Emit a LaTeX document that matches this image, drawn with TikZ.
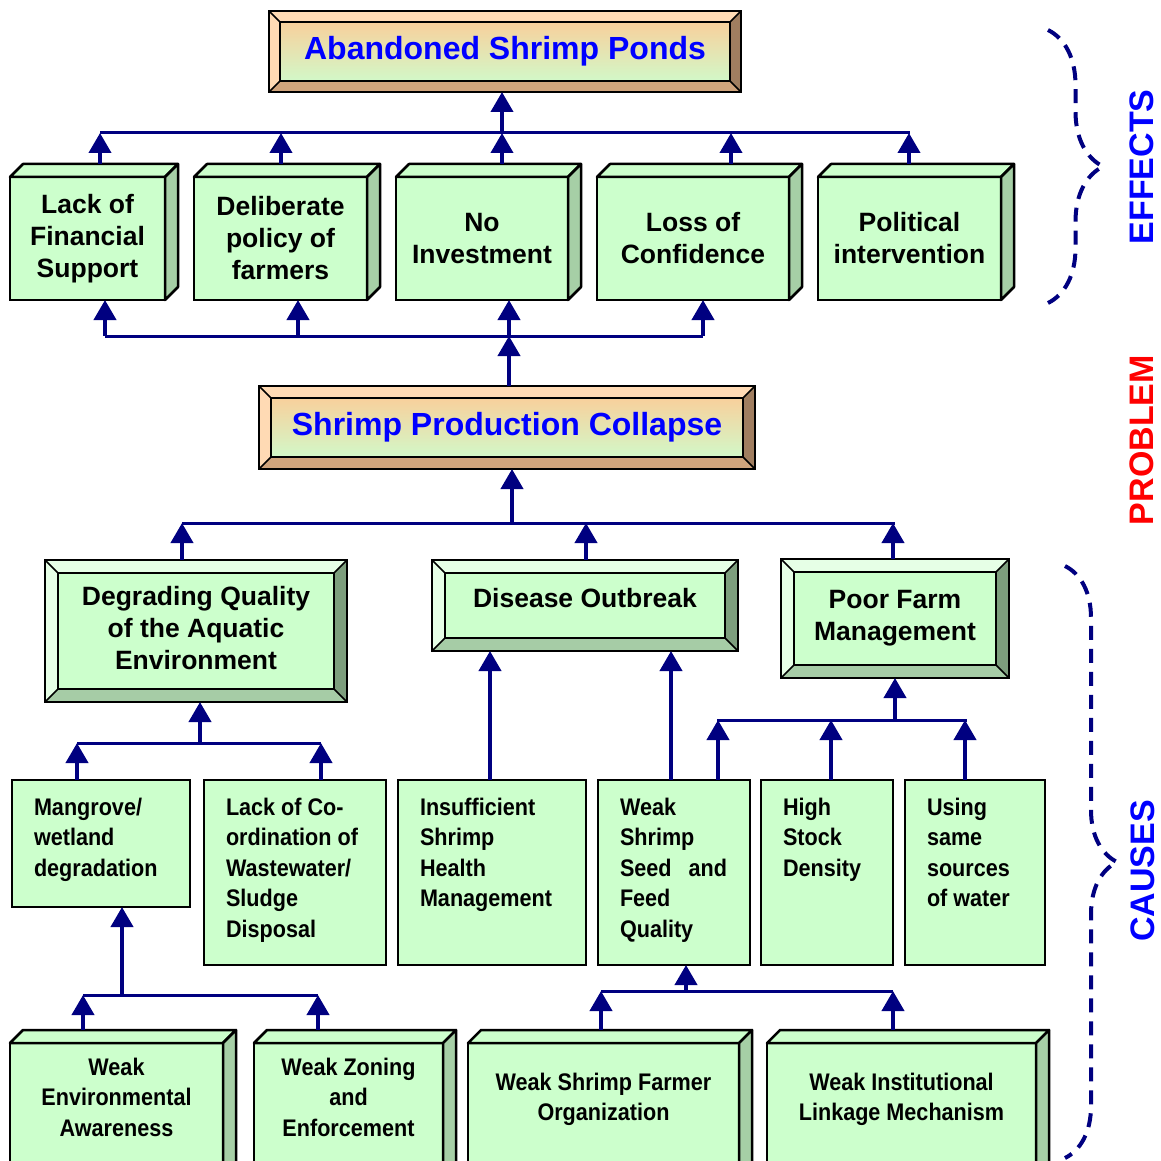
\documentclass[tikz,border=0pt]{standalone}
\usepackage{fontspec}
\setmainfont{Liberation Sans}
\newfontfamily\narrowfont[FakeStretch=0.9]{Liberation Sans}
\usepackage{tikz}
\usetikzlibrary{positioning,calc,arrows.meta,decorations.pathreplacing}
\definecolor{FaceGreen}{HTML}{CCFFCC}
\definecolor{SideGreen}{HTML}{A6CFA6}
\definecolor{LightGreen}{HTML}{E6FFE6}
\definecolor{DarkGreen}{HTML}{7D9E7D}
\definecolor{MidGreen}{HTML}{A6CCA6}
\definecolor{Peach}{HTML}{FFDAB4}
\definecolor{Brown}{HTML}{A07E60}
\definecolor{Tan}{HTML}{D0A47C}
\definecolor{PeachFace}{HTML}{F8D09C}
\definecolor{MintFace}{HTML}{D2F8C8}
\definecolor{ArrowBlue}{HTML}{000080}
\definecolor{LabelBlue}{HTML}{0000FF}
\tikzstyle{TitleBox}=[draw, line width=2.5pt, outer sep=0pt, inner sep=0pt, top color=PeachFace, bottom color=MintFace, text=LabelBlue, font=\bfseries\fontsize{32}{38}\selectfont]
\tikzstyle{BevelBox}=[draw, line width=2.5pt, outer sep=0pt, inner sep=0pt, fill=FaceGreen, align=center, font=\bfseries\fontsize{26.5}{32}\selectfont]
\tikzstyle{EffectBox}=[draw, line width=2.5pt, outer sep=0pt, inner sep=0pt, fill=FaceGreen, align=center, minimum height=123, font=\bfseries\fontsize{26.5}{32}\selectfont]
\tikzstyle{CauseBox}=[draw, line width=2.5pt, outer sep=0pt, inner xsep=22pt, inner ysep=18pt, fill=FaceGreen, anchor=north west, font=\narrowfont\bfseries\fontsize{24}{30.5}\selectfont]
\tikzstyle{RootBox}=[draw, line width=2.5pt, outer sep=0pt, inner sep=0pt, fill=FaceGreen, anchor=north west, font=\narrowfont\bfseries\fontsize{24}{30.5}\selectfont]
\tikzstyle{SideTag}=[rotate=90, font=\bfseries\fontsize{34}{40}\selectfont]
\tikzstyle{ConnUp}=[draw=ArrowBlue, line width=4pt, -{Triangle[length=20pt,width=22pt]}]
\tikzstyle{ConnIn}=[draw=ArrowBlue, line width=4pt, {Triangle[length=20pt,width=22pt]}-]
\tikzstyle{Bar}=[draw=ArrowBlue, line width=3pt]
\tikzstyle{Brace}=[draw=ArrowBlue, line width=4pt, dash pattern=on 14pt off 9pt, decorate]

% raised frame round a node: name, light, dark, mid, width
\newcommand{\BevelFrame}[5]{%
  \fill[#2] (#1.north west) -- ++(-#5,-#5) -- ($(#1.north east)+(#5,-#5)$) -- (#1.north east) -- cycle;
  \fill[#2] (#1.north west) -- ++(-#5,-#5) -- ($(#1.south west)+(-#5,#5)$) -- (#1.south west) -- cycle;
  \fill[#3] (#1.north east) -- ++(#5,-#5) -- ($(#1.south east)+(#5,#5)$) -- (#1.south east) -- cycle;
  \fill[#4] (#1.south west) -- ++(-#5,#5) -- ($(#1.south east)+(#5,#5)$) -- (#1.south east) -- cycle;
  \draw[line width=2.5pt] ($(#1.north west)+(-#5,-#5)$) rectangle ($(#1.south east)+(#5,#5)$);
  \draw[line width=2.5pt] (#1.north west) rectangle (#1.south east);
  \draw[line width=1.5pt] (#1.north west) -- ++(-#5,-#5) (#1.north east) -- ++(#5,-#5)
    (#1.south west) -- ++(-#5,#5) (#1.south east) -- ++(#5,#5);}
% top and side faces of a block
\newcommand{\BoxDepth}[1]{%
  \filldraw[fill=FaceGreen, line width=2.5pt, line join=round] (#1.north west) -- ++(13,-13) -- ($(#1.north east)+(13,-13)$) -- (#1.north east) -- cycle;
  \filldraw[fill=SideGreen, line width=2.5pt, line join=round] (#1.north east) -- ++(13,-13) -- ($(#1.south east)+(13,-13)$) -- (#1.south east) -- cycle;}
\newcommand{\TopText}[3]{\parbox[c][#2pt][t]{#1pt}{\raggedright #3}}
\newcommand{\LowText}[3]{\parbox[c][140pt][t]{#1pt}{\vspace*{#2pt}\centering #3}}

\begin{document}
\begin{tikzpicture}[x=1pt, y=-1pt]
    \useasboundingbox (0,0) rectangle (1160,1161);
    \clip (0,0) rectangle (1160,1161);

    \node[TitleBox, minimum width=450, minimum height=59] (Ponds) at (505,51.5) {Abandoned Shrimp Ponds};
    \BevelFrame{Ponds}{Peach}{Brown}{Tan}{11}
    \node[TitleBox, minimum width=472, minimum height=59] (Collapse) at (507,427.5) {Shrimp Production Collapse};
    \BevelFrame{Collapse}{Peach}{Brown}{Tan}{12}

    \node[EffectBox, minimum width=155] (LackFin) at (87.5,238.5) {Lack of\\Financial\\Support};
    \node[EffectBox, minimum width=173] (Deliberate) at (280.5,238.5) {Deliberate\\policy of\\farmers};
    \node[EffectBox, minimum width=172] (NoInvest) at (482,238.5) {No\\Investment};
    \node[EffectBox, minimum width=192] (LossConf) at (693,238.5) {Loss of\\Confidence};
    \node[EffectBox, minimum width=183] (Political) at (909.5,238.5) {Political\\intervention};
    \BoxDepth{LackFin} \BoxDepth{Deliberate} \BoxDepth{NoInvest} \BoxDepth{LossConf} \BoxDepth{Political}

    \node[BevelBox, minimum width=276, minimum height=116, text depth=6pt] (Degrading) at (196,631) {Degrading Quality\\of the Aquatic\\Environment};
    \BevelFrame{Degrading}{LightGreen}{DarkGreen}{MidGreen}{13}
    \node[BevelBox, minimum width=280, minimum height=65, text depth=16pt] (Disease) at (585,605.5) {Disease Outbreak};
    \BevelFrame{Disease}{LightGreen}{DarkGreen}{MidGreen}{13}
    \node[BevelBox, minimum width=202, minimum height=93, text depth=6pt] (Poor) at (895,618.5) {Poor Farm\\Management};
    \BevelFrame{Poor}{LightGreen}{DarkGreen}{MidGreen}{13}

    \node[CauseBox] (Mangrove) at (12,780) {\TopText{134}{91}{Mangrove/\\wetland\\degradation}};
    \node[CauseBox] (LackCo) at (204,780) {\TopText{138}{149}{Lack of Co-\\ordination of\\Wastewater/\\Sludge\\Disposal}};
    \node[CauseBox] (Insuff) at (398,780) {\TopText{144}{149}{Insufficient\\Shrimp\\Health\\Management}};
    \node[CauseBox] (WeakSeed) at (598,780) {\TopText{108}{149}{Weak\\Shrimp\\Seed\hspace{17pt}and\\Feed\\Quality}};
    \node[CauseBox] (HighStock) at (761,780) {\TopText{88}{149}{High\\Stock\\Density}};
    \node[CauseBox] (UsingSame) at (905,780) {\TopText{96}{149}{Using\\same\\sources\\of water}};

    \node[RootBox] (WeakEnv) at (10,1043) {\LowText{213}{15}{Weak\\Environmental\\Awareness}};
    \node[RootBox] (WeakZone) at (254,1043) {\LowText{189}{15}{Weak Zoning\\and\\Enforcement}};
    \node[RootBox] (FarmerOrg) at (468,1043) {\LowText{271}{30}{Weak Shrimp Farmer\\Organization}};
    \node[RootBox] (InstLink) at (767,1043) {\LowText{269}{30}{Weak Institutional\\Linkage Mechanism}};
    \BoxDepth{WeakEnv} \BoxDepth{WeakZone} \BoxDepth{FarmerOrg} \BoxDepth{InstLink}

    \coordinate (EffL) at (100,133); \coordinate (EffR) at (910,133); \coordinate (EffHub) at (502,133);
    \coordinate (BaseL) at (105,336); \coordinate (BaseR) at (703,336);
    \coordinate (ColL) at (182,523); \coordinate (ColR) at (895,523);
    \coordinate (DegL) at (77,743); \coordinate (DegR) at (321,743);
    \coordinate (PoorL) at (717,720); \coordinate (PoorR) at (967,720);
    \coordinate (MangL) at (83,995); \coordinate (MangR) at (318,995);
    \coordinate (SeedL) at (601,991); \coordinate (SeedR) at (893,991);
    \draw[Bar] (EffL) -- (EffR);
    \draw[Bar] (BaseL) -- (BaseR);
    \draw[Bar] (ColL) -- (ColR);
    \draw[Bar] (DegL) -- (DegR);
    \draw[Bar] (PoorL) -- (PoorR);
    \draw[Bar] (MangL) -- (MangR);
    \draw[Bar] (SeedL) -- (SeedR);

    \draw[ConnUp] (EffHub) -- ([xshift=-3,yshift=-11]Ponds.south);
    \draw[ConnUp] ([xshift=12.5,yshift=13]LackFin.north) -- ++(0,-31);
    \draw[ConnUp] ([xshift=0.5,yshift=13]Deliberate.north) -- ++(0,-31);
    \draw[ConnUp] ([xshift=20,yshift=13]NoInvest.north) -- ++(0,-31);
    \draw[ConnUp] ([xshift=38,yshift=13]LossConf.north) -- ++(0,-31);
    \draw[ConnUp] ([xshift=-0.5,yshift=13]Political.north) -- ++(0,-31);
    \draw[ConnIn] ([xshift=17.5]LackFin.south) -- ++(0,36);
    \draw[ConnIn] ([xshift=17.5]Deliberate.south) -- ++(0,36);
    \draw[ConnIn] ([xshift=27]NoInvest.south) -- ++(0,36);
    \draw[ConnIn] ([xshift=10]LossConf.south) -- ++(0,36);
    \draw[ConnUp] ([xshift=2,yshift=12]Collapse.north) -- ++(0,-50);
    \draw[ConnIn] ([xshift=5,yshift=-12]Collapse.south) -- ++(0,54);
    \draw[ConnUp] ([xshift=-14,yshift=13]Degrading.north) -- ++(0,-37);
    \draw[ConnUp] ([xshift=1,yshift=13]Disease.north) -- ++(0,-37);
    \draw[ConnUp] ([xshift=-2,yshift=13]Poor.north) -- ++(0,-36);
    \draw[ConnIn] ([xshift=4,yshift=-13]Degrading.south) -- ++(0,41);
    \draw[ConnUp] ([xshift=-24]Mangrove.north) -- ++(0,-37);
    \draw[ConnUp] ([xshift=26]LackCo.north) -- ++(0,-37);
    \draw[ConnUp] ([xshift=-2]Insuff.north) -- ([xshift=-95,yshift=-13]Disease.south);
    \draw[ConnUp] ([xshift=-3]WeakSeed.north) -- ([xshift=86,yshift=-13]Disease.south);
    \draw[ConnIn] ([yshift=-13]Poor.south) -- ++(0,42);
    \draw[ConnUp] ([xshift=44]WeakSeed.north) -- ++(0,-60);
    \draw[ConnUp] ([xshift=4]HighStock.north) -- ++(0,-60);
    \draw[ConnUp] ([xshift=-10]UsingSame.north) -- ++(0,-60);
    \draw[ConnIn] ([xshift=21]Mangrove.south) -- ++(0,88);
    \draw[ConnUp] ([xshift=-33.5,yshift=13]WeakEnv.north) -- ++(0,-35);
    \draw[ConnUp] ([xshift=-30.5,yshift=13]WeakZone.north) -- ++(0,-35);
    \draw[ConnIn] ([xshift=12]WeakSeed.south) -- ++(0,26);
    \draw[ConnUp] ([xshift=-2.5,yshift=13]FarmerOrg.north) -- ++(0,-39);
    \draw[ConnUp] ([xshift=-8.5,yshift=13]InstLink.north) -- ++(0,-39);

    \draw[Brace, decoration={brace, amplitude=55pt}] (1048,30) -- (1048,303);
    \draw[Brace, decoration={brace, amplitude=52pt}] (1065,566) -- (1065,1158);
    \node[SideTag, text=LabelBlue] (EffTag) at (1142,167) {EFFECTS};
    \node[SideTag, text=red] (ProbTag) at (1142,440) {PROBLEM};
    \node[SideTag, text=LabelBlue] (CauseTag) at (1143,871) {CAUSES};
\end{tikzpicture}
\end{document}
